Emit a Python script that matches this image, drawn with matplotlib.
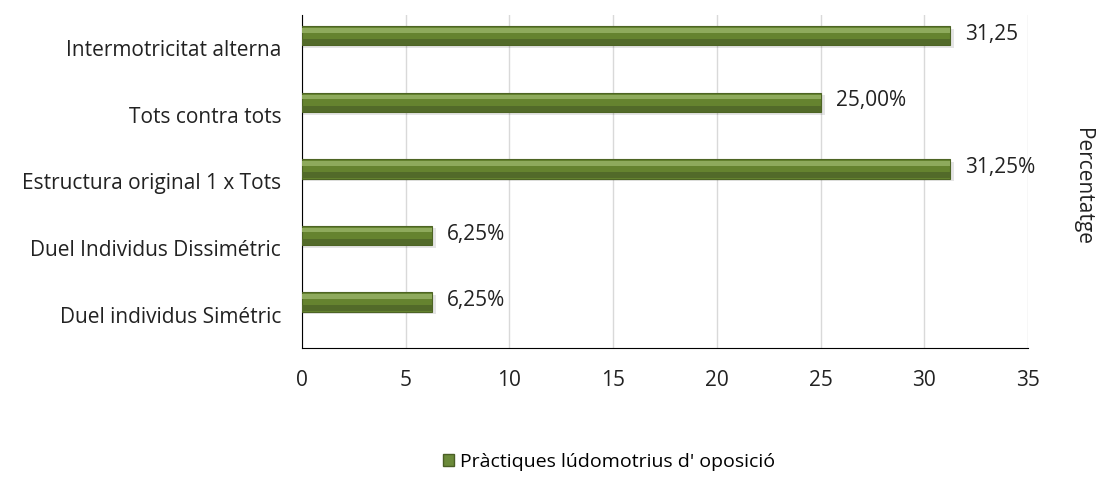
import matplotlib
matplotlib.use('Agg')
import matplotlib.pyplot as plt
from matplotlib.patches import Patch

plt.rcParams['font.family'] = ['Open Sans', 'DejaVu Sans']

# data (bottom to top)
categories = ['Duel individus Simétric', 'Duel Individus Dissimétric',
              'Estructura original 1 x Tots', 'Tots contra tots',
              'Intermotricitat alterna']
values = [6.25, 6.25, 31.25, 25.0, 31.25]
value_labels = ['6,25%', '6,25%', '31,25%', '25,00%', '31,25']
legend_label = "Pràctiques lúdomotrius d' oposició"

fs = 15

fig = plt.figure(figsize=(10.97, 4.79), dpi=100)
ax = fig.add_axes([302 / 1097, 1 - 348 / 479, (1028 - 302) / 1097, 333 / 479])

ypos = list(range(len(categories)))
off = 0.19   # bars sit a bit above the category centre, like the original
ybar = [y + off for y in ypos]
h = 0.29
# shadow under bar
ax.barh([y - 0.04 for y in ybar], [v + 0.2 for v in values], height=h, color='#000000',
        alpha=0.10, linewidth=0, zorder=2)
# base bar
ax.barh(ybar, values, height=h, color='#65832f', edgecolor='#4d6424', linewidth=0.8, zorder=3)
# darker lower part
ax.barh([y - 0.095 for y in ybar], values, height=0.09, color='#526a29', linewidth=0, zorder=4)
# lighter upper highlight
ax.barh([y + 0.08 for y in ybar], values, height=0.07, color='#8eaa5c', linewidth=0, zorder=4)

for y, v, lab in zip(ybar, values, value_labels):
    ax.annotate(lab, (v, y), xytext=(11, 1), textcoords='offset points',
                va='center', ha='left', fontsize=fs, color='#222222')

ax.set_xlim(0, 35)
ax.set_ylim(-0.5, len(categories) - 0.5)
ax.set_xticks(range(0, 36, 5))
ax.set_yticks(ypos)
ax.set_yticklabels(categories)
ax.tick_params(axis='both', length=0, labelsize=fs, colors='#222222')
ax.tick_params(axis='x', pad=16)
ax.tick_params(axis='y', pad=15)
ax.grid(axis='x', color='#d9d9d9', linewidth=1, zorder=0)
for s in ['top', 'right']:
    ax.spines[s].set_visible(False)
ax.spines['left'].set_color('#000000')
ax.spines['bottom'].set_color('#000000')

fig.text(1082 / 1097, 1 - 187 / 479, 'Percentatge', rotation=-90, ha='center', va='center',
         fontsize=fs, color='#222222')

handle = Patch(facecolor='#6b8a3a', edgecolor='#4a5f25')
fig.legend([handle], [legend_label], loc='center', bbox_to_anchor=(609 / 1097, 1 - 462 / 479),
           frameon=False, fontsize=14, handlelength=0.6, handleheight=0.6, handletextpad=0.3)

fig.savefig('out.png', dpi=100)
